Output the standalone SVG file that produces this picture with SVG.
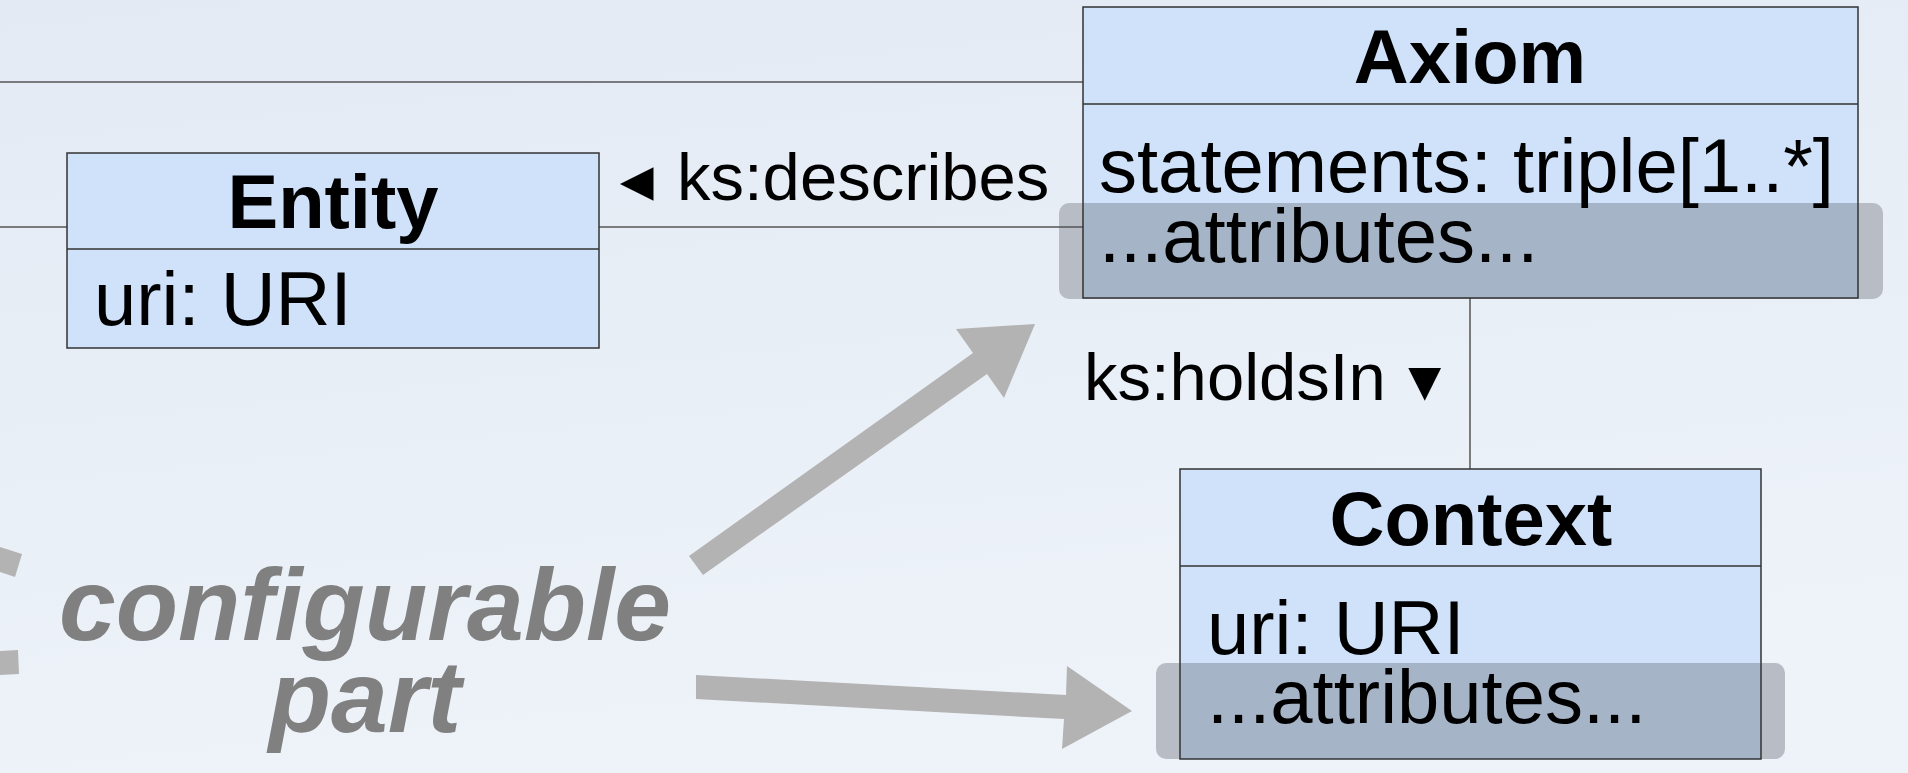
<svg xmlns="http://www.w3.org/2000/svg" width="1908" height="773" viewBox="0 0 1908 773">
<defs>
<linearGradient id="bg" x1="0" y1="0" x2="0.25" y2="1">
<stop offset="0" stop-color="#e3eaf4"/>
<stop offset="1" stop-color="#eef3f9"/>
</linearGradient>
<style>
.box{fill:#cfe2fa;stroke:#333;stroke-width:1.5}
.div{stroke:#333;stroke-width:1.5;fill:none}
.ovo{fill:#b8bdc5}
.ovi{fill:#a5b4c6}
.conn{stroke:#555;stroke-width:1.5;fill:none}
.t{font-family:"Liberation Sans",Arial,sans-serif;font-size:76px;fill:#000}
.h{font-weight:bold;text-anchor:middle}
.lbl{font-family:"Liberation Sans",Arial,sans-serif;font-size:67px;fill:#000}
.tri{font-size:56px}
.big{fill:#b3b3b3}
.cfg{font-family:"Liberation Sans",Arial,sans-serif;font-size:102px;font-weight:bold;font-style:italic;fill:#808080;text-anchor:middle}
</style>
</defs>
<rect x="0" y="0" width="1908" height="773" fill="url(#bg)"/>
<g id="highlights">
<rect class="ovo" x="1059" y="203" width="824" height="96" rx="10"/>
<rect class="ovo" x="1156" y="663" width="629" height="96" rx="10"/>
</g>
<g id="connectors">
<line class="conn" x1="0" y1="82" x2="1083" y2="82"/>
<line class="conn" x1="0" y1="227" x2="1083" y2="227"/>
<line class="conn" x1="1470" y1="298" x2="1470" y2="469"/>
<text class="lbl" x="609" y="200"><tspan class="tri">◄</tspan><tspan x="677">ks:describes</tspan></text>
<text class="lbl" x="1084" y="400">ks:holdsIn<tspan class="tri" x="1397">▼</tspan></text>
<polygon class="big" points="689,556 973,353 956,329 1035,324 1004,398 987,374 703,575"/>
<polygon class="big" points="696,675 1066,695 1067,666 1132,711 1062,749 1064,719 696,699"/>
<polygon class="big" points="0,547 22,554 15,577 0,572"/>
<polygon class="big" points="0,651 18,650 19,674 0,675"/>
</g>
<g id="entity">
<rect class="box" x="67" y="153" width="532" height="195"/>
<line class="div" x1="67" y1="249" x2="599" y2="249"/>
<text class="t h" x="333" y="228">Entity</text>
<text class="t" x="94" y="325">uri: URI</text>
</g>
<g id="axiom">
<rect x="1083" y="7" width="775" height="291" fill="#cfe2fa"/>
<rect class="ovi" x="1083" y="203" width="775" height="95"/>
<rect x="1083" y="7" width="775" height="291" fill="none" stroke="#333" stroke-width="1.5"/>
<line class="div" x1="1083" y1="104" x2="1858" y2="104"/>
<text class="t h" x="1470" y="83">Axiom</text>
<text class="t" x="1099" y="192">statements: triple[1..*]</text>
<text class="t" x="1099" y="262">...attributes...</text>
</g>
<g id="context">
<rect x="1180" y="469" width="581" height="290" fill="#cfe2fa"/>
<rect class="ovi" x="1180" y="663" width="581" height="96"/>
<rect x="1180" y="469" width="581" height="290" fill="none" stroke="#333" stroke-width="1.5"/>
<line class="div" x1="1180" y1="566" x2="1761" y2="566"/>
<text class="t h" x="1471" y="545">Context</text>
<text class="t" x="1207" y="654">uri: URI</text>
<text class="t" x="1207" y="723">...attributes...</text>
</g>
<g id="configurable">
<text class="cfg" x="365" y="640">configurable</text>
<text class="cfg" x="365" y="732">part</text>
</g>
</svg>
